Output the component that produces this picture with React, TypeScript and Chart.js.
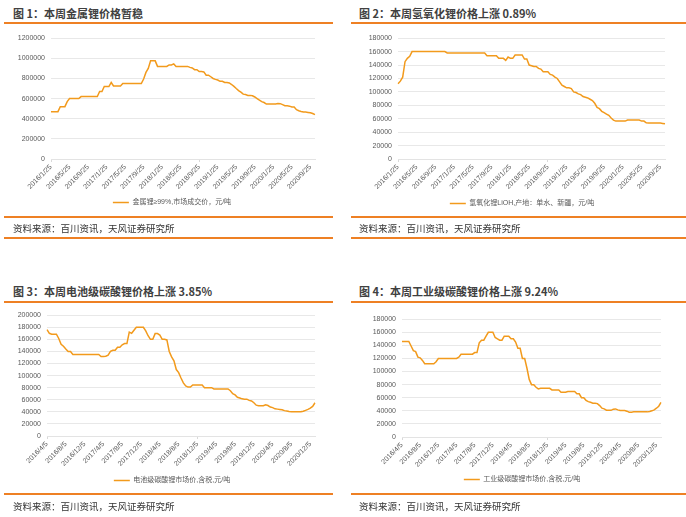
import React, { useEffect, useRef } from "react";
import { Chart, registerables } from "chart.js";

Chart.register(...registerables);
Chart.defaults.font.family = "'Liberation Sans', Arial, 'Noto Sans CJK SC', sans-serif";

const LINE_COLOR = "#F29A1C";
const BAR_COLOR = "#EE8024";
const GRID_COLOR = "#E8E8E8";
const TEXT_COLOR = "#595959";

// ---------- categories (half-month steps) ----------
function halfMonthDates(year: number, month: number, day: number, count: number): string[] {
  const out: string[] = [];
  let y = year;
  let m = month;
  for (let i = 0; i < count; i++) {
    if (i % 2 === 0) {
      out.push(`${y}/${m}/${day}`);
    } else {
      let d2 = day + 15;
      let m2 = m;
      let y2 = y;
      if (d2 > 30) {
        d2 -= 30;
        m2 += 1;
        if (m2 > 12) { m2 = 1; y2 += 1; }
      }
      out.push(`${y2}/${m2}/${d2}`);
      m += 1;
      if (m > 12) { m = 1; y += 1; }
    }
  }
  return out;
}

const CATEGORIES_A = halfMonthDates(2016, 1, 25, 115);
const CATEGORIES_B = halfMonthDates(2016, 4, 5, 115);

const TICKS_A = [
  "2016/1/25", "2016/5/25", "2016/9/25", "2017/1/25", "2017/5/25", "2017/9/25", "2018/1/25", "2018/5/25",
  "2018/9/25", "2019/1/25", "2019/5/25", "2019/9/25", "2020/1/25", "2020/5/25", "2020/9/25",
];
const TICKS_B = [
  "2016/4/5", "2016/8/5", "2016/12/5", "2017/4/5", "2017/8/5", "2017/12/5", "2018/4/5", "2018/8/5",
  "2018/12/5", "2019/4/5", "2019/8/5", "2019/12/5", "2020/4/5", "2020/8/5", "2020/12/5",
];

// ---------- series ----------
const METAL_LI = [
  470000, 470000, 470000, 470000, 520000, 520000, 520000, 570000, 600000, 600000,
  600000, 600000, 600000, 620000, 620000, 620000, 620000, 620000, 620000, 620000,
  620000, 670000, 670000, 720000, 720000, 720000, 760000, 725000, 725000, 725000,
  725000, 750000, 750000, 750000, 750000, 750000, 750000, 750000, 750000, 750000,
  795000, 860000, 900000, 975000, 975000, 975000, 920000, 920000, 920000, 920000,
  920000, 935000, 935000, 945000, 920000, 920000, 920000, 920000, 920000, 920000,
  910000, 905000, 887000, 887000, 868000, 868000, 865000, 833000, 833000, 817000,
  800000, 791000, 785000, 772000, 772000, 760000, 759000, 755000, 740000, 721000,
  700000, 680000, 664000, 644000, 640000, 632000, 632000, 628000, 616000, 600000,
  584000, 570000, 561000, 546000, 546000, 546000, 546000, 546000, 552000, 550000,
  540000, 530000, 528000, 525000, 517000, 517000, 490000, 479000, 472000, 466000,
  466000, 463000, 460000, 452000, 440000,
];

const LIOH = [
  112000, 116000, 122000, 145000, 150000, 153000, 160000, 160000, 160000, 160000,
  160000, 160000, 160000, 160000, 160000, 160000, 160000, 160000, 160000, 160000,
  160000, 158000, 158000, 158000, 158000, 158000, 158000, 158000, 158000, 158000,
  158000, 158000, 158000, 158000, 158000, 158000, 158000, 158000, 154000, 154000,
  154000, 154000, 154000, 150000, 150000, 150000, 147000, 152000, 150000, 150000,
  155000, 155000, 155000, 155000, 149000, 149000, 140000, 139000, 138000, 138000,
  135000, 134000, 130000, 130000, 130000, 126000, 125000, 122000, 120000, 115000,
  110000, 108000, 106000, 106000, 105000, 100000, 99000, 97000, 96000, 93000,
  92000, 91000, 89000, 87000, 83000, 77000, 75000, 71000, 69000, 67000,
  65000, 61000, 58000, 56500, 56500, 56500, 56500, 56500, 58000, 58000,
  58000, 58000, 58000, 58000, 56500, 56500, 54000, 53500, 53500, 53500,
  53500, 53500, 53500, 53000, 52500,
];

const BATTERY_LI2CO3 = [
  176000, 170000, 168500, 168500, 168500, 161500, 152000, 148500, 144000, 140000,
  140000, 135000, 135000, 135000, 135000, 135000, 135000, 135000, 135000, 135000,
  135000, 135000, 135000, 131500, 131500, 132000, 134000, 140000, 142000, 142000,
  147000, 147000, 151000, 153000, 153000, 172000, 170000, 175000, 180000, 180000,
  180000, 180000, 174000, 166000, 160000, 160000, 169500, 169500, 167000, 160000,
  160000, 159000, 140000, 131000, 124500, 110000, 105000, 96000, 88000, 83000,
  81000, 81000, 84500, 84500, 84500, 84500, 84500, 80000, 80000, 80000,
  80000, 78000, 78000, 78000, 78000, 78000, 78000, 78000, 75000, 70000,
  68000, 64000, 63000, 61500, 61000, 61000, 59000, 58000, 55000, 51000,
  50000, 50000, 50000, 51500, 50500, 48000, 47000, 45000, 44500, 44000,
  43500, 42000, 41500, 40500, 40000, 40000, 40000, 40000, 40000, 41000,
  42500, 44000, 46000, 49000, 55000,
];

const INDUSTRIAL_LI2CO3 = [
  146000, 146000, 146000, 146000, 139000, 132000, 130500, 122000, 121000, 117000,
  112000, 112000, 112000, 112000, 112000, 115000, 120000, 120000, 120000, 120000,
  120000, 120000, 120000, 120000, 120000, 122000, 126500, 126500, 126500, 126500,
  126500, 126500, 129000, 129000, 144000, 148000, 148000, 154000, 160000, 160000,
  160000, 152000, 150000, 148000, 148000, 154000, 154000, 154000, 150000, 150000,
  145000, 135500, 135500, 120000, 120000, 105000, 88000, 80000, 80000, 76000,
  73500, 74400, 74400, 74400, 74400, 74400, 72000, 72000, 72000, 72000,
  68500, 68500, 68500, 69500, 69500, 69500, 69500, 66000, 66000, 60000,
  60000, 56000, 54000, 53000, 51700, 51700, 51000, 48000, 44000, 43000,
  41000, 40800, 40800, 42500, 42900, 41500, 40400, 40400, 40400, 39500,
  38000, 38000, 38400, 38400, 38400, 38400, 38400, 38400, 38400, 39000,
  40000, 41500, 44000, 47000, 53000,
];

// ---------- texts ----------
const TITLES = [
  "图 1：本周金属锂价格暂稳",
  "图 2：本周氢氧化锂价格上涨 0.89%",
  "图 3：本周电池级碳酸锂价格上涨 3.85%",
  "图 4：本周工业级碳酸锂价格上涨 9.24%",
];
const LEGENDS = [
  "金属锂≥99%,市场成交价，元/吨",
  "氢氧化锂LiOH,产地：单水、新疆，元/吨",
  "电池级碳酸锂市场价,含税,元/吨",
  "工业级碳酸锂市场价,含税,元/吨",
];
const SOURCE = "资料来源：百川资讯，天风证券研究所";

type PanelCfg = {
  categories: string[];
  ticks: string[];
  values: number[];
  legend: string;
  yMax: number;
  yStep: number;
  left: number;
  top: number;
  width: number;
  height: number;
  yW: number;
  xH: number;
  legendCenter: number;
};

function LineChart({ cfg }: { cfg: PanelCfg }) {
  const ref = useRef<HTMLCanvasElement | null>(null);
  useEffect(() => {
    if (!ref.current) return;
    const tickSet = new Set(cfg.ticks);
    const legendShift = {
      id: "legendShift",
      beforeDraw(chart: any) {
        const lg = chart.legend;
        if (!lg) return;
        const w = lg.right - lg.left;
        lg.left = cfg.legendCenter - w / 2;
        lg.right = cfg.legendCenter + w / 2;
      },
    };
    const chart = new Chart(ref.current, {
      type: "line",
      data: {
        labels: cfg.categories,
        datasets: [
          {
            label: cfg.legend,
            data: cfg.values,
            borderColor: LINE_COLOR,
            backgroundColor: LINE_COLOR,
            borderWidth: 1.5,
            pointRadius: 0,
            tension: 0,
            fill: false,
          },
        ],
      },
      plugins: [legendShift],
      options: {
        responsive: false,
        animation: false,
        layout: { padding: { left: 0, right: 4, top: 6, bottom: 0 } },
        plugins: {
          legend: {
            position: "bottom",
            labels: {
              usePointStyle: true,
              pointStyle: "line",
              pointStyleWidth: 16,
              padding: 6,
              color: TEXT_COLOR,
              font: { size: 7 },
            },
          },
          tooltip: { enabled: false },
        },
        scales: {
          x: {
            type: "category",
            grid: {
              drawOnChartArea: false,
              drawTicks: true,
              tickLength: 3,
              color: (ctx: any) =>
                tickSet.has(cfg.categories[ctx.index]) ? "#D9D9D9" : "rgba(0,0,0,0)",
            },
            border: { color: "#E3E3E3" },
            ticks: {
              autoSkip: false,
              minRotation: 45,
              maxRotation: 45,
              padding: 1,
              color: TEXT_COLOR,
              font: { size: 7 },
              callback: (_v: any, i: number) =>
                tickSet.has(cfg.categories[i]) ? cfg.categories[i] : null,
            },
            afterFit: (s: any) => {
              s.height = cfg.xH;
            },
          },
          y: {
            min: 0,
            max: cfg.yMax,
            grid: { color: GRID_COLOR, drawTicks: false },
            border: { display: false },
            ticks: {
              stepSize: cfg.yStep,
              padding: 6,
              color: TEXT_COLOR,
              font: { size: 7 },
              callback: (v: any) => String(v),
            },
            afterFit: (s: any) => {
              s.width = cfg.yW;
            },
          },
        },
      } as any,
    });
    return () => chart.destroy();
  }, [cfg]);
  return (
    <canvas
      ref={ref}
      width={cfg.width}
      height={cfg.height}
      style={{ position: "absolute", left: cfg.left, top: cfg.top, width: cfg.width, height: cfg.height }}
    />
  );
}

const PANELS: PanelCfg[] = [
  { categories: CATEGORIES_A, ticks: TICKS_A, values: METAL_LI, legend: LEGENDS[0], yMax: 1200000, yStep: 200000,
    left: 4, top: 28, width: 315, height: 188, yW: 47, xH: 34, legendCenter: 168 },
  { categories: CATEGORIES_A, ticks: TICKS_A, values: LIOH, legend: LEGENDS[1], yMax: 180000, yStep: 20000,
    left: 351, top: 28, width: 318, height: 189, yW: 47, xH: 35, legendCenter: 171 },
  { categories: CATEGORIES_B, ticks: TICKS_B, values: BATTERY_LI2CO3, legend: LEGENDS[2], yMax: 200000, yStep: 20000,
    left: 4, top: 305, width: 315, height: 189, yW: 43, xH: 35, legendCenter: 168 },
  { categories: CATEGORIES_B, ticks: TICKS_B, values: INDUSTRIAL_LI2CO3, legend: LEGENDS[3], yMax: 180000, yStep: 20000,
    left: 355, top: 309, width: 310, height: 184, yW: 47, xH: 33, legendCenter: 167 },
];

const titleStyle = (left: number, top: number): React.CSSProperties => ({
  position: "absolute",
  left,
  top,
  fontSize: 11,
  lineHeight: "14px",
  fontWeight: "bold",
  color: "#404040",
  fontFamily: "'Noto Sans CJK SC', sans-serif",
  whiteSpace: "nowrap",
});
const sourceStyle = (left: number, top: number): React.CSSProperties => ({
  position: "absolute",
  left,
  top,
  fontSize: 9.5,
  lineHeight: "12px",
  color: "#333333",
  fontFamily: "'Noto Sans CJK SC', sans-serif",
  whiteSpace: "nowrap",
});
const bar = (left: number, top: number, width: number): React.CSSProperties => ({
  position: "absolute",
  left,
  top,
  width,
  height: 2,
  background: BAR_COLOR,
});

export default function App() {
  return (
    <div style={{ position: "absolute", left: 0, top: 0, width: 686, height: 517, background: "#fff", overflow: "hidden" }}>
      {PANELS.map((p, i) => (
        <LineChart key={i} cfg={p} />
      ))}
      <div style={titleStyle(13, 6)}>{TITLES[0]}</div>
      <div style={titleStyle(359, 6)}>{TITLES[1]}</div>
      <div style={titleStyle(13, 284)}>{TITLES[2]}</div>
      <div style={titleStyle(359, 284)}>{TITLES[3]}</div>

      <div style={bar(4, 22, 329)} />
      <div style={bar(351, 22, 335)} />
      <div style={bar(4, 301, 329)} />
      <div style={bar(351, 301, 335)} />

      <div style={bar(4, 216, 329)} />
      <div style={bar(351, 216, 335)} />
      <div style={bar(4, 237, 329)} />
      <div style={bar(351, 237, 335)} />
      <div style={bar(4, 493, 329)} />
      <div style={bar(351, 493, 335)} />

      <div style={sourceStyle(13, 222)}>{SOURCE}</div>
      <div style={sourceStyle(359, 222)}>{SOURCE}</div>
      <div style={sourceStyle(13, 500)}>{SOURCE}</div>
      <div style={sourceStyle(359, 500)}>{SOURCE}</div>
    </div>
  );
}
